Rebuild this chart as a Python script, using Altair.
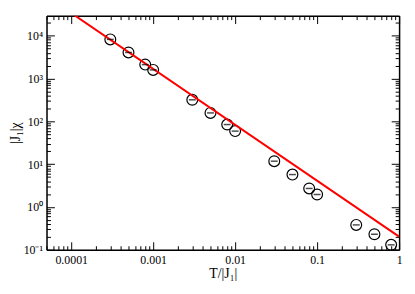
import altair as alt
import pandas as pd

# data
T = [0.0003, 0.0005, 0.0008, 0.001, 0.003, 0.005, 0.008, 0.01,
     0.03, 0.05, 0.08, 0.1, 0.3, 0.5, 0.8]
chi = [8200, 4060, 2110, 1590, 318, 157, 84, 59,
       11.7, 5.7, 2.7, 1.95, 0.38, 0.23, 0.13]
fit_T = [0.0001, 1.0]
fit_chi = [33900, 0.202]

x_labels = ["0.0001", "0.001", "0.01", "0.1", "1"]
y_labels = ["10⁻¹", "10⁰", "10¹", "10²", "10³", "10⁴"]

# tick positions (major decades + minor 2..9)
x_ticks = [m * 10.0 ** e for e in range(-5, 1) for m in range(1, 10) if 5e-5 <= m * 10.0 ** e <= 1.0000001]
y_ticks = [m * 10.0 ** e for e in range(-1, 5) for m in range(1, 10) if m * 10.0 ** e <= 29400]

pts = pd.DataFrame({"T": T, "chi": chi})
fit = pd.DataFrame({"T": fit_T, "chi": fit_chi})

FONT = "Liberation Serif"
MAJ = "abs(log(datum.value)/LN10 - round(log(datum.value)/LN10)) < 0.001"
tick_size = {"condition": {"test": MAJ, "value": -8}, "value": -4}

xs = alt.Scale(type="log", domain=[5e-5, 1], nice=False)
ys = alt.Scale(type="log", domain=[0.1, 29400], nice=False)

x_lab_expr = MAJ + " ? format(datum.value, '~g') : ''"
y_lab_expr = MAJ + " ? " + str(y_labels) + "[round(log(datum.value)/LN10)+1] : ''"

common = dict(grid=False, domainColor="black", domainWidth=1.5, tickColor="black",
              tickWidth=1, labelFont=FONT, labelFontSize=12, labelColor="black",
              titleFont=FONT, titleFontSize=14, titleFontWeight="normal", titleColor="black")

x_bottom = alt.Axis(orient="bottom", values=x_ticks, labelExpr=x_lab_expr, tickSize=tick_size,
                    title="T/|J₁|", labelPadding=13, titlePadding=1, labelFlush=False, **common)
y_left = alt.Axis(orient="left", values=y_ticks, labelExpr=y_lab_expr, tickSize=tick_size,
                  title="|J₁|χ", labelPadding=12, titlePadding=1, **common)
x_top = alt.Axis(orient="top", values=x_ticks, labels=False, tickSize=tick_size, title=None, **common)
y_right = alt.Axis(orient="right", values=y_ticks, labels=False, tickSize=tick_size, title=None, **common)

points = alt.Chart(pts).mark_point(
    shape="circle", filled=False, color="black", size=120, strokeWidth=1.2, opacity=1
).encode(
    x=alt.X("T:Q", scale=xs, axis=x_bottom),
    y=alt.Y("chi:Q", scale=ys, axis=y_left),
)

bars = alt.Chart(pts).mark_tick(orient="horizontal", color="black", size=7, thickness=1.5).encode(
    x=alt.X("T:Q", scale=xs, axis=None),
    y=alt.Y("chi:Q", scale=ys, axis=None),
)

line = alt.Chart(fit).mark_line(color="#ff0000", strokeWidth=2, clip=True).encode(
    x=alt.X("T:Q", scale=xs, axis=x_top),
    y=alt.Y("chi:Q", scale=ys, axis=y_right),
)

chart = alt.layer(points, line, bars).resolve_axis(x="independent", y="independent").properties(
    width=357, height=237, padding={"left": 0, "top": 5, "right": 5, "bottom": 5}
).configure_view(stroke=None).configure(background="white")

chart.save("out.html", embed_options={"renderer": "svg", "actions": False})
